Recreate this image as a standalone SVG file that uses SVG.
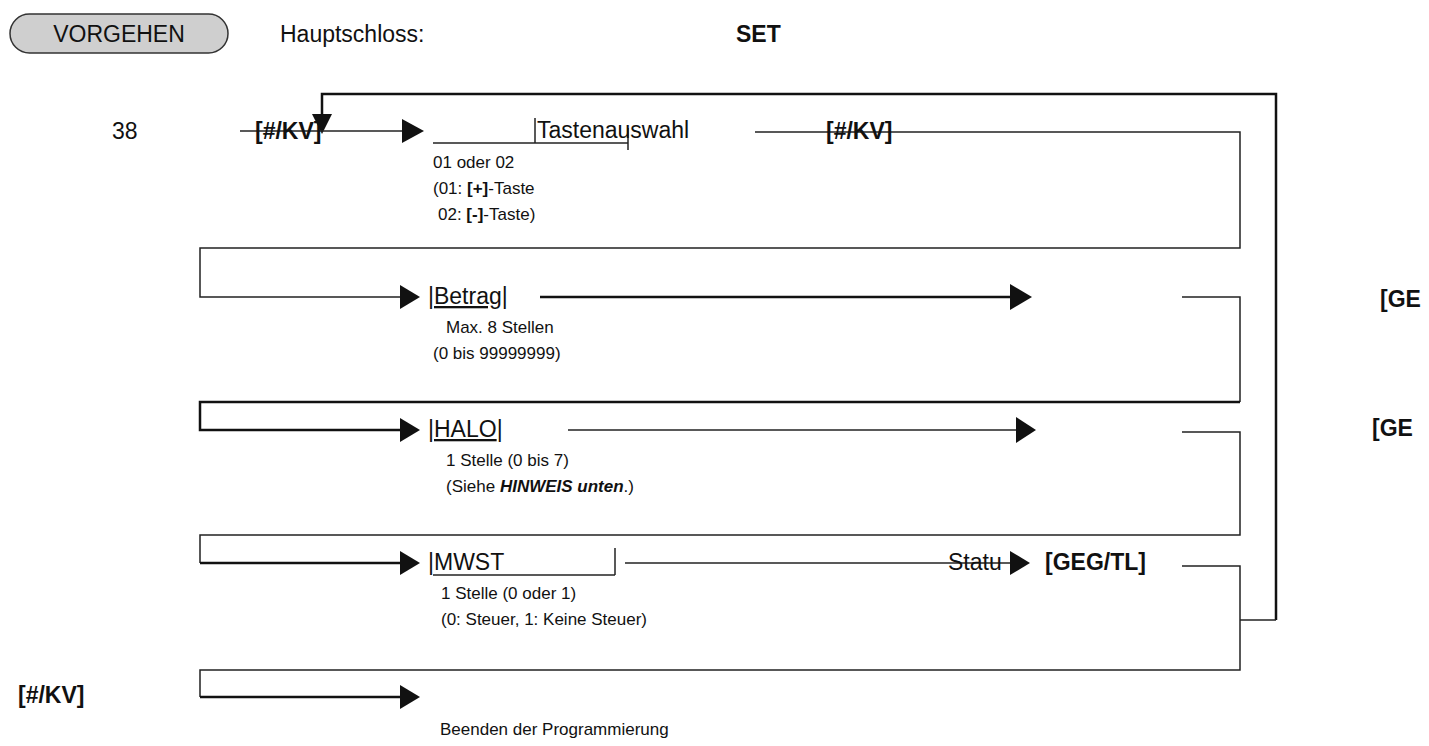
<svg xmlns="http://www.w3.org/2000/svg" width="1429" height="746" viewBox="0 0 1429 746">
<style>
text{font-family:"Liberation Sans",Arial,sans-serif;fill:#111}
.l{font-size:23px}.s{font-size:17px}.b{font-weight:bold}
.ln{stroke:#222;stroke-width:1.5;fill:none}
.tk{stroke:#111;stroke-width:2.5;fill:none}
.ah{fill:#111}
</style>
<rect width="1429" height="746" fill="#fff"/>
<g id="header">
<rect x="10" y="14" width="218" height="39" rx="19.5" fill="#cfcfcf" stroke="#333" stroke-width="1.5"/>
<text class="l" x="119" y="42" text-anchor="middle">VORGEHEN</text>
<text class="l" x="280" y="42">Hauptschloss:</text>
<text class="l b" x="736" y="42">SET</text>
</g>
<g id="connectors">
<polyline class="tk" points="1276,620 1276,94 322,94 322,118"/>
<polygon class="ah" points="312,114 332,114 322,134"/>
<line class="ln" x1="1240" y1="620" x2="1276" y2="620"/>
<line class="ln" x1="240" y1="131" x2="402" y2="131"/>
<polygon class="ah" points="402,119 424,131 402,143"/>
<polyline class="ln" points="755,132 1240,132 1240,248 200,248 200,297 400,297"/>
<polygon class="ah" points="400,285 420,297 400,309"/>
<line class="tk" x1="540" y1="297" x2="1012" y2="297"/>
<polygon class="ah" points="1010,284 1032,297 1010,310"/>
<polyline class="ln" points="1182,297 1240,297 1240,402"/>
<polyline class="tk" points="1240,402 200,402 200,430 400,430"/>
<polygon class="ah" points="400,418 420,430 400,442"/>
<line class="ln" x1="568" y1="430" x2="1018" y2="430"/>
<polygon class="ah" points="1016,417 1036,430 1016,443"/>
<polyline class="ln" points="1182,432 1240,432 1240,535 200,535 200,563"/>
<line class="tk" x1="200" y1="563" x2="400" y2="563"/>
<polygon class="ah" points="400,551 420,563 400,575"/>
<line class="ln" x1="625" y1="563" x2="1012" y2="563"/>
<polygon class="ah" points="1010,551 1030,563 1010,575"/>
<polyline class="ln" points="1182,566 1240,566 1240,670 200,670 200,697"/>
<line class="tk" x1="200" y1="697" x2="400" y2="697"/>
<polygon class="ah" points="400,685 420,697 400,709"/>
</g>
<g id="n38"><text class="l" x="112" y="139">38</text></g>
<g id="kv1"><text class="l b" x="255" y="139">[#/KV]</text></g>
<g id="tasten">
<line class="ln" x1="433" y1="143" x2="628" y2="143"/>
<line class="ln" x1="535" y1="118" x2="535" y2="143"/>
<line class="ln" x1="628" y1="128" x2="628" y2="150"/>
<text class="l" x="537" y="138">Tastenauswahl</text>
<text class="s" x="433" y="168">01 oder 02</text>
<text class="s" x="433" y="194">(01: <tspan class="b">[+]</tspan>-Taste</text>
<text class="s" x="438" y="220">02: <tspan class="b">[-]</tspan>-Taste)</text>
</g>
<g id="kv2"><text class="l b" x="826" y="139">[#/KV]</text></g>
<g id="betrag">
<text class="l" x="428" y="304">|<tspan text-decoration="underline">Betrag</tspan>|</text>
<text class="s" x="446" y="333">Max. 8 Stellen</text>
<text class="s" x="433" y="359">(0 bis 99999999)</text>
</g>
<g id="ge1"><text class="l b" x="1380" y="307">[GE</text></g>
<g id="halo">
<text class="l" x="428" y="437">|<tspan text-decoration="underline">HALO</tspan>|</text>
<text class="s" x="446" y="466">1 Stelle (0 bis 7)</text>
<text class="s" x="446" y="492">(Siehe <tspan class="b" font-style="italic">HINWEIS unten</tspan>.)</text>
</g>
<g id="ge2"><text class="l b" x="1372" y="436">[GE</text></g>
<g id="mwst">
<line class="ln" x1="433" y1="575" x2="615" y2="575"/>
<line class="ln" x1="615" y1="548" x2="615" y2="575"/>
<text class="l" x="428" y="570">|MWST</text>
<text class="s" x="441" y="599">1 Stelle (0 oder 1)</text>
<text class="s" x="441" y="625">(0: Steuer, 1: Keine Steuer)</text>
</g>
<g id="status"><text class="l" x="948" y="570">Statu</text><text class="l b" x="1045" y="570">[GEG/TL]</text></g>
<g id="kv3"><text class="l b" x="18" y="703">[#/KV]</text></g>
<g id="ende"><text class="s" x="440" y="735">Beenden der Programmierung</text></g>
</svg>
